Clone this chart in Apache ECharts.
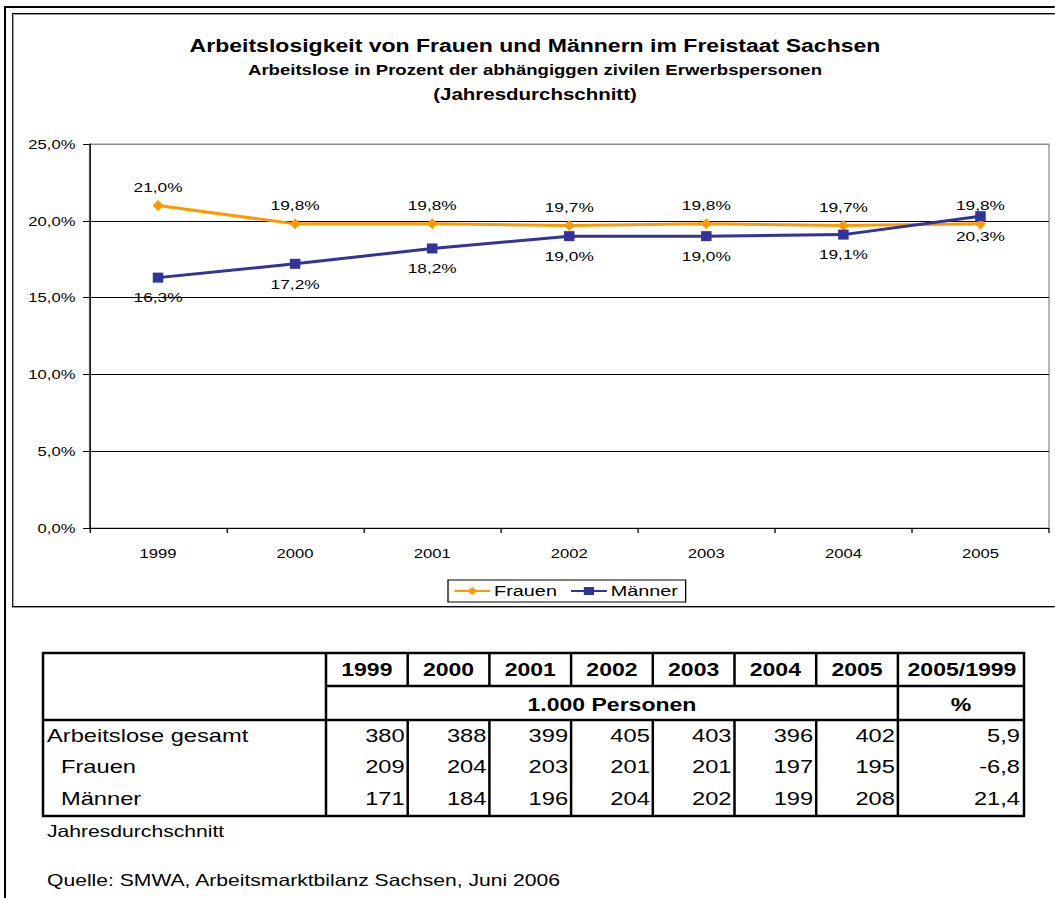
<!DOCTYPE html>
<html>
<head>
<meta charset="utf-8">
<script src="https://cdn.jsdelivr.net/npm/echarts@6/dist/echarts.min.js"></script>
<style>
html,body{margin:0;padding:0;background:#fff;overflow:hidden;}
#wrap{position:absolute;left:0;top:0;height:898px;transform-origin:0 0;}
</style>
</head>
<body>
<div id="wrap"></div>
<script>
// ---------- data ----------
const years = ['1999', '2000', '2001', '2002', '2003', '2004', '2005'];
const frauenQuote = [21.0, 19.8, 19.8, 19.7, 19.8, 19.7, 19.8];
const maennerQuote = [16.3, 17.2, 18.2, 19.0, 19.0, 19.1, 20.3];
const seriesNames = ['Frauen', 'Männer'];

const titleText = 'Arbeitslosigkeit von Frauen und Männern im Freistaat Sachsen';
const subtitleLines = ['Arbeitslose in Prozent der abhängiggen zivilen Erwerbspersonen', '(Jahresdurchschnitt)'];

const rowLabels = ['Arbeitslose gesamt', 'Frauen', 'Männer'];
const gesamtAbs = [380, 388, 399, 405, 403, 396, 402];
const frauenAbs = [209, 204, 203, 201, 201, 197, 195];
const maennerAbs = [171, 184, 196, 204, 202, 199, 208];
const veraenderung = [5.9, -6.8, 21.4];
const changeHeader = '2005/1999';
const unitAbs = '1.000 Personen';
const unitPct = '%';
const footnote = 'Jahresdurchschnitt';
const sourceNote = 'Quelle: SMWA, Arbeitsmarktbilanz Sachsen, Juni 2006';

// ---------- layout (reference pixels, horizontally stretched picture) ----------
const S = 1.28;               // horizontal stretch of the reference
const X = v => v / S;         // reference x -> unscaled x
const W = 1055 / S;
const FONT = '"Liberation Sans", Arial, sans-serif';
const fmtPct = v => v.toFixed(1).replace('.', ',') + '%';
const fmtNum = v => v.toFixed(1).replace('.', ',');

const wrap = document.getElementById('wrap');
wrap.style.width = W + 'px';
wrap.style.transform = 'scaleX(' + S + ')';

const chart = echarts.init(wrap, null, { renderer: 'svg', width: W, height: 898 });

// graphic helpers
const G = [];
function hline(x1, x2, y, w, c) {
  G.push({ type: 'line', silent: true, shape: { x1: X(x1), y1: y, x2: X(x2), y2: y },
    style: { stroke: c || '#000', lineWidth: w } });
}
function vline(x, y1, y2, w, c) {
  G.push({ type: 'line', silent: true, shape: { x1: X(x), y1: y1, x2: X(x), y2: y2 },
    style: { stroke: c || '#000', lineWidth: w / S } });
}
function txt(s, x, y, align, size, bold) {
  G.push({ type: 'text', silent: true, x: X(x), y: y,
    style: { text: s, fill: '#000', fontSize: size, fontFamily: FONT, fontWeight: bold ? 'bold' : 'normal',
      align: align, verticalAlign: 'middle', textAlign: align, textVerticalAlign: 'middle' } });
}

// outer frame
hline(4, 1060, 7, 2);
vline(5, 6, 900, 2);
// chart frame
hline(12, 1060, 13.5, 1);
hline(13, 1060, 14.5, 1, '#999');
vline(12.5, 13, 607, 1);
vline(13.5, 14, 606, 1, '#999');
hline(12, 1060, 606.5, 1);
hline(12, 1060, 607.5, 1, '#999');

// table
const tL = 42, tR = 1024, colEdges = [326, 407.7, 489.4, 571.1, 652.8, 734.5, 816.2, 897.9];
const yTop = 653, yYear = 686, yUnit = 720, yBot = 816;
hline(tL, tR + 1, yTop, 2.5);
hline(colEdges[0], tR + 1, yYear, 2.5);
hline(tL, tR + 1, yUnit, 2.5);
hline(tL, tR + 1, yBot, 2.5);
vline(tL + 1, yTop - 1, yBot + 1, 2.5);
vline(tR, yTop - 1, yBot + 1, 2.5);
vline(colEdges[0], yTop, yBot, 2.5);
vline(colEdges[7], yTop, yBot, 2.5);
for (let i = 1; i < 7; i++) {
  vline(colEdges[i], yTop, yYear, 2.5);
  vline(colEdges[i], yUnit, yBot, 2.5);
}
// header texts
years.forEach((y, i) => txt(y, (colEdges[i] + colEdges[i + 1]) / 2, 669, 'center', 18, true));
txt(changeHeader, (colEdges[7] + tR) / 2 + 1, 669, 'center', 18, true);
txt(unitAbs, (colEdges[0] + colEdges[7]) / 2, 704, 'center', 18, true);
txt(unitPct, (colEdges[7] + tR) / 2, 704, 'center', 18, true);
// body
const bodyRows = [gesamtAbs, frauenAbs, maennerAbs];
const rowY = [736, 767, 799];
const rowX = [47, 61, 61];
bodyRows.forEach((vals, r) => {
  txt(rowLabels[r], rowX[r], rowY[r], 'left', 18.5, false);
  vals.forEach((v, i) => txt(String(v), colEdges[i + 1] - 3, rowY[r], 'right', 18.5, false));
  txt(fmtNum(veraenderung[r]), tR - 4, rowY[r], 'right', 18.5, false);
});
txt(footnote, 47, 831, 'left', 16.5, false);
txt(sourceNote, 47, 880, 'left', 16.5, false);

const option = {
  animation: false,
  backgroundColor: '#fff',
  textStyle: { fontFamily: FONT, color: '#000' },
  title: {
    text: titleText,
    subtext: '{a|' + subtitleLines[0] + '}\n{b|' + subtitleLines[1] + '}',
    left: X(535),
    textAlign: 'center',
    top: 35,
    padding: 0,
    itemGap: 3,
    textStyle: { fontFamily: FONT, fontWeight: 'bold', fontSize: 18, color: '#000', lineHeight: 20 },
    subtextStyle: {
      fontFamily: FONT, fontWeight: 'bold', fontSize: 14.5, color: '#000', lineHeight: 24,
      rich: {
        a: { fontFamily: FONT, fontWeight: 'bold', fontSize: 14.5, color: '#000', lineHeight: 24 },
        b: { fontFamily: FONT, fontWeight: 'bold', fontSize: 16, color: '#000', lineHeight: 24 }
      }
    }
  },
  legend: {
    data: seriesNames,
    left: X(448),
    top: 580,
    orient: 'horizontal',
    borderColor: '#000',
    borderWidth: 1,
    padding: [3, 6, 3, 4],
    itemGap: 10,
    itemWidth: 28,
    itemHeight: 10,
    textStyle: { fontFamily: FONT, fontSize: 15.5, color: '#000', padding: [0, 0, 0, -2] }
  },
  grid: {
    left: X(89.5), right: X(6), top: 144, bottom: 370,
    containLabel: false, outerBoundsMode: 'none',
    show: true, borderColor: '#8c8c8c', borderWidth: 1, backgroundColor: 'transparent'
  },
  xAxis: {
    type: 'category',
    data: years,
    boundaryGap: true,
    axisLine: { show: true, lineStyle: { color: '#000', width: 1 } },
    axisTick: { show: true, length: 5, lineStyle: { color: '#000' } },
    axisLabel: { color: '#000', fontSize: 13, fontFamily: FONT, margin: 19 },
    splitLine: { show: false }
  },
  yAxis: {
    type: 'value',
    min: 0, max: 25, interval: 5,
    axisLine: { show: true, lineStyle: { color: '#000', width: 1 } },
    axisTick: { show: true, length: 5, lineStyle: { color: '#000' } },
    axisLabel: { color: '#000', fontSize: 13, fontFamily: FONT, margin: 11, formatter: fmtPct },
    splitLine: { show: true, lineStyle: { color: ['#000', '#000', '#000', '#000', '#000', '#8c8c8c'], width: 1 } }
  },
  series: [
    {
      name: seriesNames[0], type: 'line', data: frauenQuote,
      symbol: 'diamond', symbolSize: [X(11), 11],
      itemStyle: { color: '#FF9900' },
      lineStyle: { color: '#FF9900', width: 3 },
      label: { show: true, position: 'top', distance: 6, color: '#000', fontSize: 13.5, fontFamily: FONT, formatter: p => fmtPct(p.value) },
      emphasis: { disabled: true }
    },
    {
      name: seriesNames[1], type: 'line', data: maennerQuote,
      symbol: 'rect', symbolSize: [X(10.5), 10],
      itemStyle: { color: '#333399' },
      lineStyle: { color: '#333399', width: 3 },
      label: { show: true, position: 'bottom', distance: 8, color: '#000', fontSize: 13.5, fontFamily: FONT, formatter: p => fmtPct(p.value) },
      emphasis: { disabled: true }
    }
  ],
  graphic: { elements: G }
};
chart.setOption(option);
</script>
</body>
</html>
